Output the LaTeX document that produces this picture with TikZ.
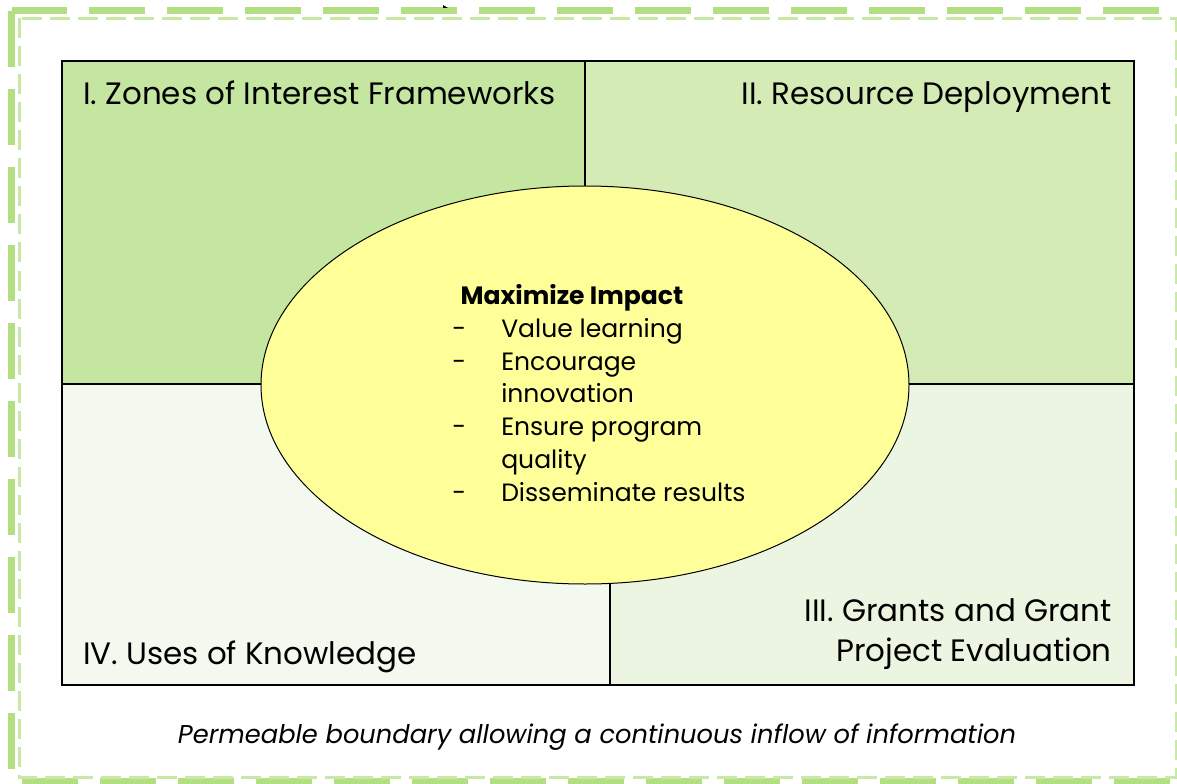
\documentclass[tikz,border=0pt]{standalone}
\usepackage{fontspec}
\setmainfont{Poppins}
\usetikzlibrary{shapes.geometric}

\definecolor{zoneone}{HTML}{C5E6A0}
\definecolor{zonetwo}{HTML}{D4EBB6}
\definecolor{zonethree}{HTML}{EBF5E1}
\definecolor{zonefour}{HTML}{F3F9EE}
\definecolor{core}{HTML}{FFFF99}
\definecolor{edgedark}{HTML}{B3DE81}
\definecolor{edgelight}{HTML}{C8E8A5}

\newcommand{\itm}[1]{\makebox[36.75pt][l]{-}#1}
\newcommand{\cnt}[1]{\hspace*{36.75pt}#1}

\begin{document}
\begin{tikzpicture}[x=0.75pt, y=-0.75pt,
  zone/.style = {font=\fontsize{23.2}{30}\selectfont, inner sep=0pt},
  core/.style = {draw, ellipse, fill=core, line width=0.75pt, minimum width=486pt, minimum height=298.5pt},
  list/.style = {font=\fontsize{18.8}{24.6}\selectfont, inner sep=0pt, align=left}]
\useasboundingbox (0,0) rectangle (1177,784);
% permeable boundary
\draw[edgedark, line width=5.25pt, dash pattern=on 42pt off 16.5pt] (11.5,11) rectangle (1180,781);
\draw[edgelight, line width=2.25pt, dash pattern=on 15pt off 6pt] (19.5,18.5) rectangle (1176,777);
\fill (443,5) -- (448,8) -- (443,8) -- cycle;
% four zones
\fill[zoneone] (62,61) rectangle (585,384);
\fill[zonetwo] (585,61) rectangle (1134,384);
\fill[zonethree] (610,384) rectangle (1134,685);
\fill[zonefour] (62,384) rectangle (610,685);
\draw[line width=1.5pt] (585,61) -- (585,384);
\draw[line width=1.5pt] (62,384) -- (1134,384);
\draw[line width=1.5pt] (610,384) -- (610,685);
\draw[line width=1.5pt] (62,61) rectangle (1134,685);
% centre
\node[core] (5) at (585,385) {};
\node[zone, anchor=base west] (1) at (83,105) {I. Zones of Interest Frameworks};
\node[zone, anchor=base east] (2) at (1112,105) {II. Resource Deployment};
\node[zone, anchor=north east, align=right] (3) at (1112,598) {III. Grants and Grant\\Project Evaluation};
\node[zone, anchor=base west] (4) at (83,664) {IV. Uses of Knowledge};
\node[list, anchor=base] (6) at (572,304) {\bfseries Maximize Impact};
\node[list, anchor=north west] (7) at (452,318) {\itm{Value learning}\\
\itm{Encourage}\\
\cnt{innovation}\\
\itm{Ensure program}\\
\cnt{quality}\\
\itm{Disseminate results}};
\node[font=\fontsize{19.3}{24}\selectfont\itshape, inner sep=0pt] (8) at (597,737) {Permeable boundary allowing a continuous inflow of information};
\end{tikzpicture}
\end{document}
